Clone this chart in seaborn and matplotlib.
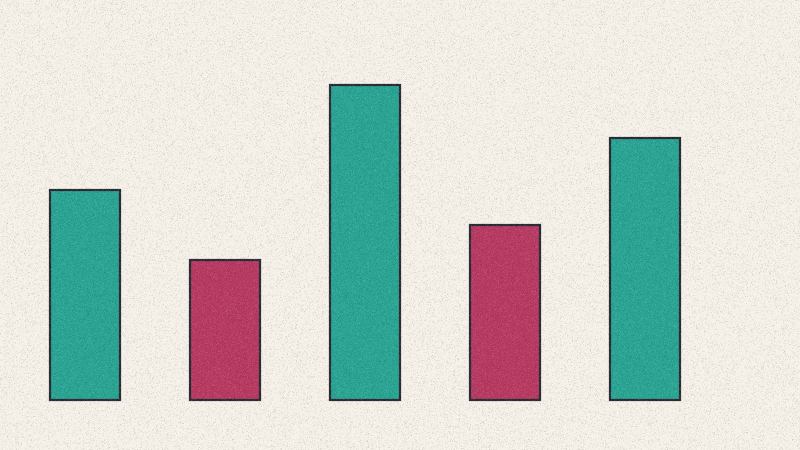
import matplotlib
matplotlib.use("Agg")
import matplotlib.pyplot as plt
import numpy as np
import pandas as pd
import seaborn as sns

# values of the five bars
categories = ["A", "B", "C", "D", "E"]
values = [60, 40, 90, 50, 75]
groups = ["teal", "red", "teal", "red", "teal"]

bg = "#f6f2ea"
palette = {"teal": "#2aa594", "red": "#b83a62"}

df = pd.DataFrame({"cat": categories, "val": values, "grp": groups})

sns.set_theme(style="white")
fig = plt.figure(figsize=(8, 4.5), dpi=100)
fig.patch.set_facecolor(bg)
ax = fig.add_axes([0, 0, 1, 1])
ax.set_facecolor(bg)

sns.barplot(data=df, x="cat", y="val", hue="grp", palette=palette,
            dodge=False, width=0.5, saturation=1, edgecolor="#2b2b35",
            linewidth=1.6, legend=False, ax=ax)

# place category 0 at 85px, 140px spacing; baseline 50px above bottom
ax.set_xlim(-85 / 140, (800 - 85) / 140)
ax.set_ylim(-50 / 3.5, 400 / 3.5)
ax.axis("off")

# paper grain (decorative only): light and dark specks, low alpha
rng = np.random.default_rng(3)
n = rng.normal(0, 1, (450, 800))
grain = np.zeros((450, 800, 4))
grain[..., :3] = (n > 0)[..., None].astype(float)
grain[..., 3] = np.clip(np.abs(n) * 0.045, 0, 0.15)
fig.figimage(grain, zorder=10)

fig.savefig("out.png", dpi=100, facecolor=bg)
